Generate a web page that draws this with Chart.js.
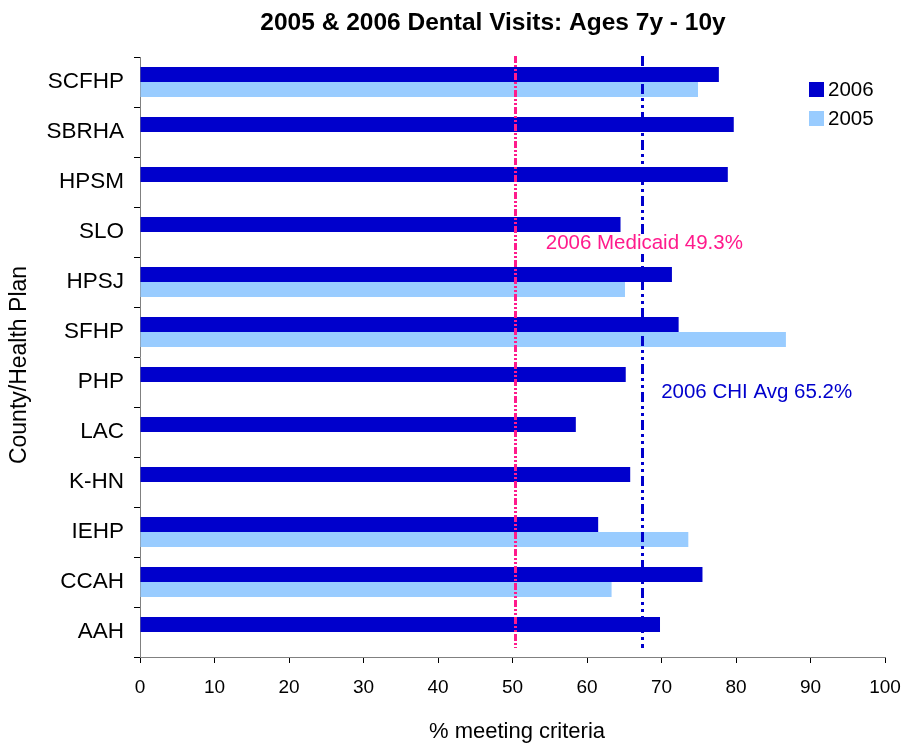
<!DOCTYPE html>
<html>
<head>
<meta charset="utf-8">
<script src="https://cdn.jsdelivr.net/npm/chart.js@4.4.1/dist/chart.umd.min.js"></script>
<style>
html,body{margin:0;padding:0;background:#fff;}
#wrap{width:905px;height:748px;}
</style>
</head>
<body>
<div id="wrap"><canvas id="c" width="905" height="748"></canvas></div>
<script>
const categories = ["SCFHP","SBRHA","HPSM","SLO","HPSJ","SFHP","PHP","LAC","K-HN","IEHP","CCAH","AAH"];
const values2006 = [77.7, 79.7, 78.9, 64.5, 71.4, 72.3, 65.2, 58.5, 65.8, 61.5, 75.5, 69.8];
const values2005 = [74.9, null, null, null, 65.1, 86.7, null, null, null, 73.6, 63.3, null];
const seriesNames = ["2006", "2005"];
const xTicks = [0,10,20,30,40,50,60,70,80,90,100];
const refValues = [50.3, 67.4];
const refLabels = ["2006 Medicaid 49.3%", "2006 CHI Avg 65.2%"];
const chartTitle = "2005 & 2006 Dental Visits: Ages 7y - 10y";
const xTitle = "% meeting criteria";
const yTitle = "County/Health Plan";

const FONT = "'Liberation Sans', Arial, sans-serif";
const DARK = "#0000CC";
const LIGHT = "#99CCFF";
const PINK = "#FF1A8C";

const overlay = {
  id: 'overlay',
  afterDatasetsDraw(chart) {
    const ctx = chart.ctx;
    const xs = chart.scales.x, ys = chart.scales.y, ca = chart.chartArea;
    const colors = [PINK, DARK];
    ctx.save();
    refValues.forEach((v, i) => {
      const x = Math.round(xs.getPixelForValue(v)) + 0.5;
      ctx.beginPath();
      ctx.strokeStyle = colors[i];
      ctx.lineWidth = 3;
      ctx.setLineDash(i === 0 ? [7,2,2,2,2,2] : [10,4,3,4,3,4]);
      ctx.moveTo(x, ca.top - 1);
      ctx.lineTo(x, ca.bottom - 9);
      ctx.stroke();
    });
    ctx.setLineDash([]);
    ctx.textBaseline = 'middle';
    ctx.textAlign = 'left';
    ctx.font = "20.5px " + FONT;
    {
      const x = xs.getPixelForValue(refValues[0]) + 31;
      const y = ys.getPixelForValue(3) + 11;
      const w = ctx.measureText(refLabels[0]).width;
      ctx.fillStyle = '#fff';
      ctx.fillRect(x - 5, y - 9, w + 8, 20);
      ctx.fillStyle = PINK;
      ctx.fillText(refLabels[0], x, y);
    }
    {
      const x = xs.getPixelForValue(refValues[1]) + 19;
      const y = ys.getPixelForValue(6) + 10;
      ctx.fillStyle = DARK;
      ctx.fillText(refLabels[1], x, y);
    }
    const lx = 809, ly = [82, 111];
    const lc = [DARK, LIGHT];
    seriesNames.forEach((n, i) => {
      ctx.fillStyle = lc[i];
      ctx.fillRect(lx, ly[i], 15, 15);
      ctx.fillStyle = '#000';
      ctx.font = "20.5px " + FONT;
      ctx.fillText(n, lx + 19, ly[i] + 8);
    });
    ctx.fillStyle = '#000';
    ctx.textAlign = 'center';
    ctx.textBaseline = 'alphabetic';
    ctx.font = "bold 24.5px " + FONT;
    ctx.fillText(chartTitle, 493, 30);
    ctx.font = "22px " + FONT;
    ctx.textBaseline = 'middle';
    ctx.fillText(xTitle, 517, 732);
    ctx.translate(20, 365);
    ctx.rotate(-Math.PI / 2);
    ctx.font = "23px " + FONT;
    ctx.fillText(yTitle, 0, 0);
    ctx.restore();
  }
};

new Chart(document.getElementById('c'), {
  type: 'bar',
  data: {
    labels: categories,
    datasets: [
      { label: seriesNames[0], data: values2006, backgroundColor: DARK, borderWidth: 0, categoryPercentage: 0.6, barPercentage: 1.0 },
      { label: seriesNames[1], data: values2005, backgroundColor: LIGHT, borderWidth: 0, categoryPercentage: 0.6, barPercentage: 1.0 }
    ]
  },
  options: {
    indexAxis: 'y',
    responsive: false,
    animation: false,
    devicePixelRatio: 1,
    layout: { padding: { left: 0, right: 20, top: 57, bottom: 0 } },
    plugins: {
      legend: { display: false },
      tooltip: { enabled: false },
      title: { display: false }
    },
    scales: {
      x: {
        min: 0, max: 100,
        afterBuildTicks(scale) { scale.ticks = xTicks.map(v => ({ value: v })); },
        afterFit(scale) { scale.height = 91; scale.paddingLeft = 0; scale.paddingRight = 0; },
        grid: { drawOnChartArea: false, drawTicks: true, tickLength: 6, color: '#000' },
        border: { display: true, color: '#808080', width: 1 },
        ticks: { color: '#000', font: { family: FONT, size: 19 }, padding: 13, maxRotation: 0 },
        title: { display: false }
      },
      y: {
        afterFit(scale) { scale.width = 140; scale.paddingTop = 0; scale.paddingBottom = 0; },
        grid: { drawOnChartArea: false, drawTicks: true, tickLength: 6, color: '#000', offset: true },
        border: { display: true, color: '#808080', width: 1 },
        ticks: { color: '#000', font: { family: FONT, size: 22.5 }, padding: 10 },
        title: { display: false }
      }
    }
  },
  plugins: [overlay]
});
</script>
</body>
</html>
